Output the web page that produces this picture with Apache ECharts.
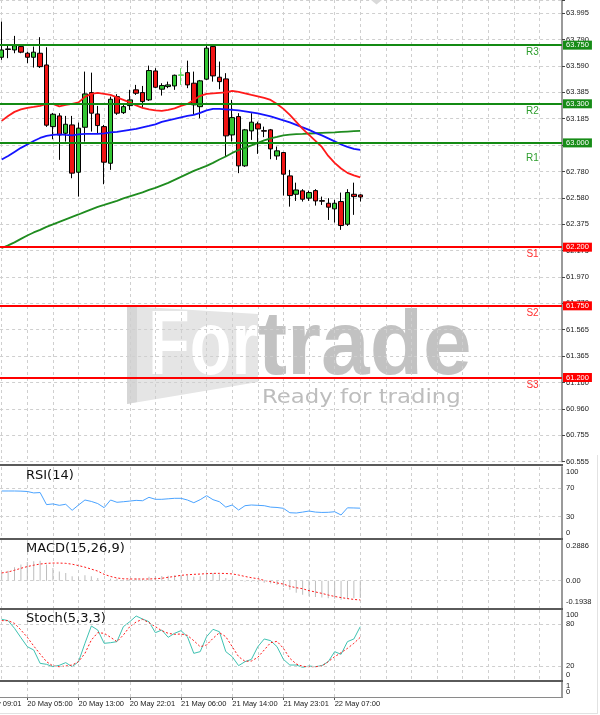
<!DOCTYPE html>
<html>
<head>
<meta charset="utf-8">
<script src="https://cdn.jsdelivr.net/npm/echarts@6/dist/echarts.min.js"></script>
<style>
  html, body { margin: 0; padding: 0; background: #fff; }
  #chart { width: 600px; height: 715px; }
</style>
</head>
<body>
<div id="chart"></div>
<script>
// ---- data -----------------------------------------------------------------
const xLabels = ['19 May 09:01', '20 May 05:00', '20 May 13:00', '20 May 22:01',
                 '21 May 06:00', '21 May 14:00', '21 May 23:01', '22 May 07:00'];

const openP = [63.657, 63.717, 63.713, 63.739, 63.688, 63.657, 63.688, 63.598, 63.125, 63.207,
               63.074, 63.138, 62.775, 63.120, 63.386, 63.222, 63.125, 62.844, 63.355, 63.232,
               63.286, 63.407, 63.386, 63.330, 63.552, 63.412, 63.432, 63.437, 63.518, 63.539,
               63.458, 63.278, 63.489, 63.739, 63.504, 63.491, 63.061, 63.202, 62.824, 63.092,
               63.146, 63.094, 63.100, 62.900, 62.926, 62.747, 62.606, 62.632, 62.576, 62.634,
               62.557, 62.537, 62.494, 62.550, 62.376, 62.606, 62.601];
const closeP = [63.713, 63.721, 63.746, 63.696, 63.657, 63.696, 63.585, 63.136, 63.220, 63.061,
                63.143, 62.768, 63.113, 63.376, 63.228, 63.133, 62.852, 63.335, 63.228, 63.278,
                63.330, 63.381, 63.317, 63.555, 63.427, 63.440, 63.445, 63.519, 63.522, 63.445,
                63.292, 63.476, 63.727, 63.514, 63.470, 63.054, 63.194, 62.824, 63.100, 63.159,
                63.107, 63.090, 62.954, 62.939, 62.760, 62.596, 62.639, 62.568, 62.619, 62.555,
                62.553, 62.507, 62.537, 62.366, 62.619, 62.588, 62.585];
const highP = [63.931, 63.752, 63.821, 63.746, 63.700, 63.739, 63.811, 63.734, 63.230, 63.228,
               63.207, 63.207, 63.156, 63.547, 63.539, 63.284, 63.138, 63.355, 63.374, 63.299,
               63.407, 63.445, 63.437, 63.593, 63.573, 63.458, 63.470, 63.524, 63.573, 63.631,
               63.547, 63.483, 63.752, 63.752, 63.624, 63.535, 63.330, 63.228, 63.107, 63.228,
               63.163, 63.125, 63.107, 62.972, 62.931, 62.793, 62.695, 62.645, 62.634, 62.645,
               62.588, 62.576, 62.563, 62.619, 62.645, 62.695, 62.606];
const lowP = [63.637, 63.650, 63.688, 63.688, 63.611, 63.578, 63.575, 63.123, 63.028, 62.870,
              63.010, 62.729, 62.588, 63.010, 63.087, 63.074, 62.683, 62.793, 63.215, 63.222,
              63.253, 63.368, 63.266, 63.322, 63.420, 63.363, 63.420, 63.407, 63.445, 63.420,
              63.215, 63.189, 63.483, 63.470, 63.412, 62.900, 63.010, 62.768, 62.816, 63.023,
              62.916, 63.044, 62.875, 62.870, 62.596, 62.511, 62.555, 62.550, 62.555, 62.519,
              62.524, 62.409, 62.389, 62.333, 62.363, 62.448, 62.550];

// moving averages
const maFast = [63.169, 63.207, 63.238, 63.257, 63.269, 63.276, 63.284, 63.299, 63.299, 63.280,
                63.292, 63.299, 63.311, 63.353, 63.376, 63.384, 63.376, 63.368, 63.349, 63.330,
                63.311, 63.288, 63.269, 63.257, 63.249, 63.245, 63.253, 63.265, 63.284, 63.299,
                63.330, 63.361, 63.376, 63.380, 63.384, 63.387, 63.399, 63.391, 63.380, 63.368,
                63.357, 63.345, 63.330, 63.299, 63.261, 63.215, 63.161, 63.107, 63.061, 63.015,
                62.969, 62.900, 62.847, 62.804, 62.770, 62.751, 62.735];
const maMid = [62.873, 62.900, 62.931, 62.962, 62.988, 63.015, 63.038, 63.054, 63.061, 63.065,
               63.061, 63.058, 63.065, 63.069, 63.069, 63.069, 63.073, 63.081, 63.084, 63.092,
               63.100, 63.107, 63.119, 63.130, 63.142, 63.161, 63.173, 63.184, 63.196, 63.207,
               63.215, 63.230, 63.249, 63.261, 63.261, 63.257, 63.253, 63.249, 63.242, 63.234,
               63.226, 63.215, 63.203, 63.188, 63.173, 63.157, 63.138, 63.119, 63.100, 63.077,
               63.058, 63.035, 63.012, 62.988, 62.969, 62.954, 62.946];
const maSlow = [62.194, 62.214, 62.237, 62.264, 62.290, 62.313, 62.333, 62.356, 62.375, 62.394,
                62.413, 62.432, 62.451, 62.471, 62.490, 62.509, 62.524, 62.540, 62.555, 62.574,
                62.590, 62.605, 62.620, 62.639, 62.655, 62.674, 62.693, 62.716, 62.739, 62.762,
                62.785, 62.804, 62.824, 62.847, 62.873, 62.896, 62.923, 62.946, 62.962, 62.981,
                63.000, 63.019, 63.035, 63.046, 63.058, 63.063, 63.067, 63.069, 63.072, 63.074,
                63.077, 63.079, 63.081, 63.084, 63.087, 63.090, 63.092];

// oscillators
const rsi14 = [66.2, 66.2, 66.2, 66.0, 65.5, 63.5, 64.0, 47.0, 48.0, 46.0,
               47.5, 39.0, 46.5, 53.5, 51.5, 48.5, 42.7, 53.5, 50.3, 51.1,
               52.0, 53.0, 52.5, 57.3, 54.5, 54.5, 55.2, 55.9, 55.9, 53.5,
               49.7, 54.0, 59.6, 54.0, 51.1, 43.5, 46.5, 39.4, 45.5, 46.5,
               46.0, 45.5, 43.5, 43.0, 41.8, 35.6, 35.2, 36.5, 38.0, 36.5,
               36.0, 36.2, 37.0, 32.4, 42.5, 42.3, 42.0];
const macdMain = [0.055, 0.071, 0.095, 0.114, 0.132, 0.137, 0.142, 0.114, 0.090, 0.066,
                  0.055, 0.031, 0.024, 0.038, 0.031, 0.019, 0.005, 0.014, 0.014, 0.009,
                  0.012, 0.017, 0.014, 0.028, 0.033, 0.033, 0.035, 0.038, 0.040, 0.038,
                  0.028, 0.031, 0.052, 0.055, 0.045, 0.019, 0.014, 0.000, -0.005, -0.008,
                  -0.010, -0.015, -0.020, -0.030, -0.045, -0.065, -0.085, -0.100, -0.110, -0.115,
                  -0.120, -0.125, -0.128, -0.135, -0.130, -0.125, -0.122];
const macdSignal = [0.055, 0.062, 0.074, 0.088, 0.100, 0.110, 0.118, 0.123, 0.125, 0.125,
                    0.123, 0.117, 0.107, 0.096, 0.082, 0.068, 0.045, 0.030, 0.019, 0.014,
                    0.012, 0.012, 0.012, 0.012, 0.014, 0.017, 0.024, 0.030, 0.038, 0.042,
                    0.045, 0.047, 0.050, 0.052, 0.052, 0.051, 0.048, 0.040, 0.030, 0.021,
                    0.014, 0.002, -0.006, -0.016, -0.024, -0.040, -0.050, -0.057, -0.071, -0.080,
                    -0.090, -0.102, -0.112, -0.120, -0.127, -0.133, -0.137];
const stochK = [86.7, 84.8, 73.8, 60.5, 47.6, 42.9, 23.8, 22.4, 19.0, 21.0,
                24.8, 19.0, 26.2, 52.4, 77.1, 71.4, 52.4, 53.3, 54.8, 76.2,
                83.3, 91.4, 87.1, 83.3, 67.6, 71.4, 61.0, 66.7, 70.5, 61.9,
                38.1, 40.5, 61.9, 72.4, 69.0, 40.5, 33.3, 20.5, 26.2, 29.5,
                47.6, 58.6, 56.2, 47.6, 29.5, 21.4, 21.4, 18.1, 20.0, 19.0,
                20.5, 26.2, 40.5, 36.7, 54.8, 58.6, 76.2];
const stochD = [84.8, 84.8, 80.9, 71.4, 61.0, 48.6, 37.1, 26.2, 20.0, 19.0,
                20.0, 21.4, 26.2, 38.1, 57.1, 67.6, 66.7, 61.0, 54.8, 64.3,
                76.2, 82.9, 86.7, 81.9, 76.2, 70.5, 66.7, 65.2, 65.7, 63.8,
                56.2, 47.6, 50.0, 59.5, 67.6, 61.9, 47.6, 33.3, 26.7, 27.1,
                32.4, 42.9, 53.3, 55.2, 45.2, 31.0, 22.9, 19.5, 19.0, 19.0,
                20.0, 26.2, 33.3, 39.0, 45.2, 52.4, 61.0];

// price scale ticks
const priceTicks = [60.555, 60.755, 60.960, 61.160, 61.365, 61.565, 61.770, 61.970, 62.175,
                    62.375, 62.580, 62.780, 62.985, 63.185, 63.385, 63.590, 63.790, 63.995];
const rsiTicks = [0, 30, 70, 100];
const macdTicks = [-0.1938, 0, 0.2886];
const stochTicks = [0, 20, 80, 100];
const emptyTicks = [0, 1];

// horizontal levels
const resistance = [63.75, 63.30, 63.00];
const resistanceNames = ['R3', 'R2', 'R1'];
const support = [62.20, 61.75, 61.20];
const supportNames = ['S1', 'S2', 'S3'];
const rsiLevels = [30, 70];
const macdLevels = [0];
const stochLevels = [20, 80];

// ---- layout ---------------------------------------------------------------
const FONT = 'Liberation Sans';
const TITLE_FONT = 'DejaVu Sans';
const GRID_COLOR = '#cfcfcf';
const DASH = [3, 3];
const STEP = 6.403;             // px per bar
const FIRST_BAR_X = 1.7;        // centre of bar 0
const AXIS_X = 562;             // price scale line
const X_MIN = -4;
const GRID_LEFT = FIRST_BAR_X + X_MIN * STEP;
const X_MAX = (AXIS_X - GRID_LEFT) / STEP + X_MIN;
const NAME_X = 82.9;            // bar position of the R/S captions
const resistanceDy = [7, 7, 15];
const supportDy = [7.5, 7.5, 7.5];

const panes = [
  { top: 0, height: 461.6 },
  { top: 467, height: 71 },
  { top: 540, height: 68 },
  { top: 610, height: 70 },
  { top: 682, height: 15 }
];
const PRICE_STEP = +((priceTicks[priceTicks.length - 1] - priceTicks[0]) / (priceTicks.length - 1)).toFixed(6);
const PRICE_PX = 26.376;        // px between price ticks
const PRICE_MAX = priceTicks[0] + panes[0].height / PRICE_PX * PRICE_STEP;

const labelBase = { fontFamily: FONT, fontSize: 7.5, color: '#1a1a1a' };
function richFor(padTop, padBottom) {
  return {
    hi: Object.assign({ padding: [padTop, 0, 0, 0] }, labelBase),
    lo: Object.assign({ padding: [0, 0, padBottom, 0] }, labelBase)
  };
}
function near(a, b, eps) { return Math.abs(a - b) < eps; }
function tickText(ticks, digits, eps) {
  return function (v) {
    const lo = ticks[0], hi = ticks[ticks.length - 1];
    for (const t of ticks) {
      if (near(t, v, eps)) {
        const s = digits === null ? String(t) : t.toFixed(digits);
        if (t === hi) return '{hi|' + s + '}';
        if (t === lo) return '{lo|' + s + '}';
        return s;
      }
    }
    return '';
  };
}

const grids = panes.map(p => ({
  left: GRID_LEFT, width: AXIS_X - GRID_LEFT, top: p.top, height: p.height,
  containLabel: false, outerBoundsMode: 'none'
}));

const xAxes = panes.map((p, k) => {
  const bottom = k === panes.length - 1;
  return {
    type: 'value', gridIndex: k, min: X_MIN, max: X_MAX, interval: 4,
    axisLine: { show: bottom, onZero: false, lineStyle: { color: '#8a8a8a', width: 1 } },
    axisTick: bottom ? { show: true, length: 3, lineStyle: { color: '#555' },
                         customValues: xLabels.map((_, j) => X_MIN + 8 * j) } : { show: false },
    axisLabel: bottom ? Object.assign({
      show: true, align: 'left', margin: 3, hideOverlap: false,
      showMinLabel: true, showMaxLabel: true,
      formatter: v => {
        const j = (v - X_MIN) / 8;
        return Number.isInteger(j) && xLabels[j] ? xLabels[j] : '';
      }
    }, labelBase) : { show: false },
    splitLine: { show: true, lineStyle: { color: GRID_COLOR, type: DASH, width: 1 } }
  };
});

function sideAxis(k, extra) {
  return Object.assign({
    type: 'value', gridIndex: k, position: 'right',
    axisLine: { show: true, onZero: false, lineStyle: { color: '#9a9a9a', width: 2 } },
    axisTick: { show: false },
    splitLine: { show: false }
  }, extra);
}
function sideLabels(formatter, rich) {
  return Object.assign({
    margin: 4, hideOverlap: false, showMinLabel: true, showMaxLabel: true,
    formatter: formatter, rich: rich
  }, labelBase);
}

const yAxes = [
  sideAxis(0, {
    min: priceTicks[0], max: PRICE_MAX, interval: PRICE_STEP,
    axisTick: { show: true, length: 3, lineStyle: { color: '#444' } },
    axisLabel: sideLabels(tickText(priceTicks, 3, 0.004), richFor(0, 0)),
    splitLine: { show: true, lineStyle: { color: GRID_COLOR, type: DASH, width: 1 } }
  }),
  sideAxis(1, {
    min: 0, max: 100, interval: 10,
    axisLabel: sideLabels(tickText(rsiTicks, null, 1e-6), richFor(9, 9.5))
  }),
  sideAxis(2, {
    min: macdTicks[0], max: macdTicks[2], interval: -macdTicks[0],
    axisLabel: sideLabels(function (v) {
      if (near(v, 0, 1e-6)) return '0.00';
      if (near(v, macdTicks[2], 1e-6)) return '{hi|' + macdTicks[2].toFixed(4) + '}';
      if (near(v, macdTicks[0], 1e-6)) return '{lo|' + macdTicks[0].toFixed(4) + '}';
      return '';
    }, richFor(11.5, 12.5))
  }),
  sideAxis(3, {
    min: 0, max: 100, interval: 20,
    axisLabel: sideLabels(tickText(stochTicks, null, 1e-6), richFor(9, 10))
  }),
  // empty pane: its two labels sit so close together that each gets its own scale
  sideAxis(4, {
    min: emptyTicks[0], max: emptyTicks[1], interval: 1,
    axisLabel: sideLabels(v => near(v, emptyTicks[1], 1e-6) ? '{hi|' + emptyTicks[1] + '}' : '', richFor(8, 11))
  }),
  sideAxis(4, {
    min: emptyTicks[0], max: emptyTicks[1], interval: 1,
    axisLine: { show: false },
    axisLabel: sideLabels(v => near(v, emptyTicks[0], 1e-6) ? '{lo|' + emptyTicks[0] + '}' : '', richFor(8, 11))
  })
];

function levelLines(levels) {
  return {
    silent: true, symbol: 'none', animation: false,
    label: { show: false },
    lineStyle: { color: GRID_COLOR, type: DASH, width: 1 },
    data: levels.map(v => ({ yAxis: v }))
  };
}
function priceTag(bg, value) {
  return {
    show: true, position: 'end', distance: 1,
    formatter: value.toFixed(3),
    color: '#fff', backgroundColor: bg, padding: [1, 3, 0, 3],
    fontFamily: FONT, fontSize: 7.5, lineHeight: 8
  };
}
function caption(name, price, dy, color) {
  return {
    coord: [NAME_X, price], value: name,
    label: { show: true, position: 'inside', offset: [0, dy], formatter: name,
             color: color, fontFamily: FONT, fontSize: 10 }
  };
}

const lastClose = closeP[closeP.length - 1];
const pairs = arr => arr.map((v, i) => [i, v]);

const candles = openP.map((o, i) => {
  const item = { value: [i, o, closeP[i], lowP[i], highP[i]] };
  if (i === 28) item.itemStyle = { borderColor: '#5fdc5f' };
  return item;
});

const series = [
  {
    type: 'candlestick', name: 'price', xAxisIndex: 0, yAxisIndex: 0,
    dimensions: ['idx', 'open', 'close', 'lowest', 'highest'],
    encode: { x: 'idx', y: ['open', 'close', 'lowest', 'highest'] },
    data: candles, barWidth: 5, clip: false,
    itemStyle: { color: '#33c733', color0: '#f01414', borderColor: '#000', borderColor0: '#000', borderWidth: 1 },
    markLine: {
      silent: true, symbol: 'none', animation: false,
      data: [].concat(
        resistance.map(p => ({ yAxis: p, lineStyle: { color: '#138a13', width: 2, type: 'solid' }, label: priceTag('#178c17', p) })),
        support.map(p => ({ yAxis: p, lineStyle: { color: '#ff0000', width: 2, type: 'solid' }, label: priceTag('#ff0000', p) })),
        [{ yAxis: lastClose, lineStyle: { opacity: 0 }, label: priceTag('#000000', lastClose) }]
      )
    },
    markPoint: {
      silent: true, animation: false, symbol: 'circle', symbolSize: 1,
      itemStyle: { color: 'rgba(0,0,0,0)' },
      data: [].concat(
        resistance.map((p, j) => caption(resistanceNames[j], p, resistanceDy[j], '#2e9e2e')),
        support.map((p, j) => caption(supportNames[j], p, supportDy[j], '#ff3030'))
      )
    }
  },
  { type: 'line', name: 'MA slow', xAxisIndex: 0, yAxisIndex: 0, data: pairs(maSlow), symbol: 'none', z: 3,
    lineStyle: { color: '#1f8c1f', width: 1.8 } },
  { type: 'line', name: 'MA mid', xAxisIndex: 0, yAxisIndex: 0, data: pairs(maMid), symbol: 'none', z: 3,
    lineStyle: { color: '#1414ff', width: 1.8 } },
  { type: 'line', name: 'MA fast', xAxisIndex: 0, yAxisIndex: 0, data: pairs(maFast), symbol: 'none', z: 3,
    lineStyle: { color: '#ff1a1a', width: 1.8 } },

  { type: 'line', name: 'RSI', xAxisIndex: 1, yAxisIndex: 1, data: pairs(rsi14), symbol: 'none',
    lineStyle: { color: '#4aa3ff', width: 1 }, markLine: levelLines(rsiLevels) },

  { type: 'bar', name: 'MACD', xAxisIndex: 2, yAxisIndex: 2, data: pairs(macdMain), barWidth: 1,
    itemStyle: { color: '#bdbdbd' }, markLine: levelLines(macdLevels) },
  { type: 'line', name: 'Signal', xAxisIndex: 2, yAxisIndex: 2, data: pairs(macdSignal), symbol: 'none',
    lineStyle: { color: '#ff1a1a', width: 1, type: [2, 2] } },

  { type: 'line', name: '%K', xAxisIndex: 3, yAxisIndex: 3, data: pairs(stochK), symbol: 'none',
    lineStyle: { color: '#3fc2b2', width: 1 }, markLine: levelLines(stochLevels) },
  { type: 'line', name: '%D', xAxisIndex: 3, yAxisIndex: 3, data: pairs(stochD), symbol: 'none',
    lineStyle: { color: '#ff1a1a', width: 1, type: [2, 2] } }
];

const paneTitle = (text, top) => ({
  text: text, left: 26, top: top, padding: 0,
  textStyle: { fontFamily: TITLE_FONT, fontSize: 13, fontWeight: 'normal', color: '#111' }
});

// watermark, pane separators and frame
const watermark = {
  type: 'group', z: -10, silent: true,
  children: [
    { type: 'polygon', z: -10, shape: { points: [[127, 306], [258, 314], [258, 382], [127, 404]] },
      style: { fill: '#e5e5e5' } },
    { type: 'polygon', z: -10, shape: { points: [[127, 306], [137, 307], [137, 402], [127, 404]] },
      style: { fill: '#d6d6d6' } },
    { type: 'text', z: -10, x: 148, y: 348.5, scaleX: 0.75,
      style: { text: 'For', fill: '#ffffff', font: 'bold 91px "Liberation Sans"', verticalAlign: 'middle', align: 'left' } },
    { type: 'text', z: -10, x: 258, y: 348.5, scaleX: 0.96,
      style: { text: 'trade', fill: '#c2c2c2', font: 'bold 91px "Liberation Sans"', verticalAlign: 'middle', align: 'left' } },
    { type: 'text', z: -10, x: 262, y: 397.4, scaleX: 1.14,
      style: { text: 'Ready for trading', fill: '#bdbdbd', font: '20px "DejaVu Sans"', verticalAlign: 'middle', align: 'left' } }
  ]
};
const separators = [464, 538, 608, 680].map(y => ({
  type: 'rect', z: 100, silent: true, shape: { x: 0, y: y, width: AXIS_X + 1, height: 2 }, style: { fill: '#5a5a5a' }
}));
const frame = [
  { type: 'line', z: 100, silent: true, shape: { x1: 0, y1: 697.5, x2: AXIS_X + 1, y2: 697.5 }, style: { stroke: '#8a8a8a', lineWidth: 1 } },
  { type: 'line', z: 100, silent: true, shape: { x1: 597.5, y1: 455, x2: 597.5, y2: 713.5 }, style: { stroke: '#e2e2e2', lineWidth: 1 } },
  { type: 'line', z: 100, silent: true, shape: { x1: 0, y1: 713.5, x2: 598, y2: 713.5 }, style: { stroke: '#e2e2e2', lineWidth: 1 } },
  { type: 'polygon', z: 100, silent: true, shape: { points: [[371, 0], [382, 0], [376.5, 4.5]] }, style: { fill: '#d9d9d9' } }
];

const chart = echarts.init(document.getElementById('chart'), null, { renderer: 'canvas' });
chart.setOption({
  backgroundColor: '#ffffff',
  animation: false,
  title: [paneTitle('RSI(14)', 469), paneTitle('MACD(15,26,9)', 542.5), paneTitle('Stoch(5,3,3)', 612.3)],
  grid: grids,
  xAxis: xAxes,
  yAxis: yAxes,
  series: series,
  graphic: [watermark].concat(separators, frame)
});
</script>
</body>
</html>
